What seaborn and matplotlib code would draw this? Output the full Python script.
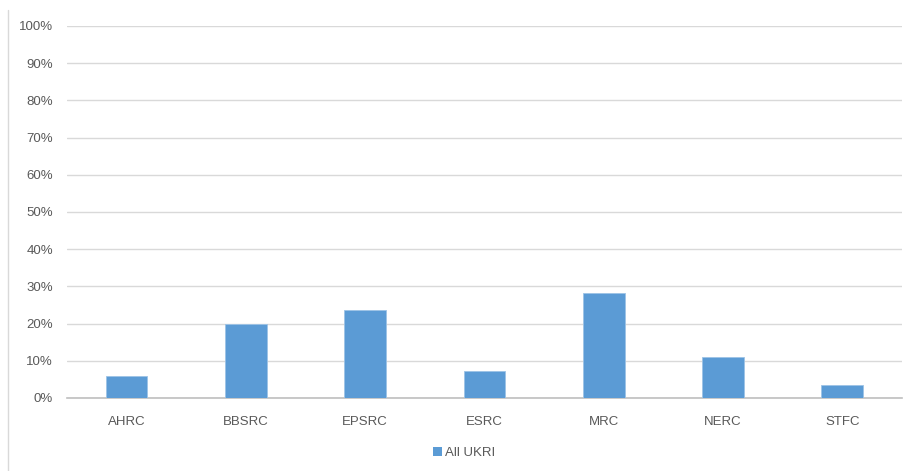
import matplotlib
matplotlib.use("Agg")
import matplotlib.pyplot as plt
import pandas as pd
import seaborn as sns
from matplotlib.lines import Line2D
from matplotlib.patches import Patch
from matplotlib.ticker import FuncFormatter, MultipleLocator


COUNCILS = ["AHRC", "BBSRC", "EPSRC", "ESRC", "MRC", "NERC", "STFC"]
SHARE_PCT = [5.8, 19.8, 23.6, 7.2, 28.1, 10.9, 3.5]
SERIES_NAME = "All UKRI"

BAR_COLOR = "#5B9BD5"
GRID_COLOR = "#D9D9D9"
TEXT_COLOR = "#595959"


def main():
    sns.set_style("white")
    plt.rcParams["font.family"] = ["Liberation Sans", "DejaVu Sans"]

    df = pd.DataFrame({"Council": COUNCILS, "Share": SHARE_PCT})

    fig = plt.figure(figsize=(9.05, 4.71), dpi=100)
    ax = fig.add_axes([0.074, 0.155, 0.9227, 0.7898])

    sns.barplot(data=df, x="Council", y="Share", color=BAR_COLOR,
                width=0.35, saturation=1, ax=ax, zorder=3,
                edgecolor="#9DC3E6", linewidth=0.6)

    ax.set_ylim(0, 100)
    ax.set_xlim(-0.5, len(COUNCILS) - 0.5)
    ax.yaxis.set_major_locator(MultipleLocator(10))
    ax.yaxis.set_major_formatter(FuncFormatter(lambda v, _: f"{v:.0f}%"))
    ax.grid(axis="y", color=GRID_COLOR, linewidth=1, zorder=0)

    for side in ["top", "right", "left"]:
        ax.spines[side].set_visible(False)
    ax.spines["bottom"].set_color("#BFBFBF")
    ax.spines["bottom"].set_linewidth(1.2)

    ax.tick_params(axis="both", length=0, labelsize=9.5, colors=TEXT_COLOR)
    ax.tick_params(axis="x", pad=13)
    ax.tick_params(axis="y", pad=10)
    ax.set_xlabel("")
    ax.set_ylabel("")

    handle = Patch(facecolor=BAR_COLOR, edgecolor="none")
    fig.legend([handle], [SERIES_NAME], loc="center", bbox_to_anchor=(0.513, 0.038),
               frameon=False, fontsize=9.5, handlelength=0.7, handleheight=0.7,
               handletextpad=0.2, labelcolor=TEXT_COLOR)

    # thin frame line at the left edge of the chart area
    fig.add_artist(Line2D([8 / 905, 8 / 905], [0, 1 - 10 / 471],
                          color="#D9D9D9", linewidth=1))

    fig.savefig("out.png", dpi=100)


if __name__ == "__main__":
    main()
